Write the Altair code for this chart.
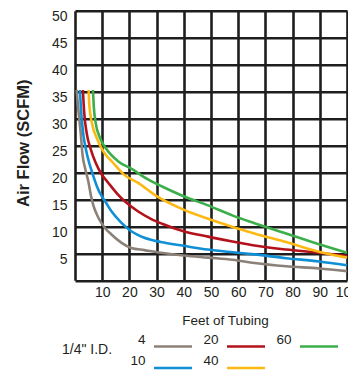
import altair as alt
import pandas as pd

# ---- data (Feet of tubing vs Air flow SCFM, 1/4" I.D.) ----
series_names = ["4", "10", "20", "40", "60"]

ft_4 = [0.6, 1.1, 1.6, 2.2, 2.7, 3.8, 5.0, 5.9, 6.8, 8.6, 11.0, 13.4, 17.0, 20.7, 25.5, 31.5, 39.9, 48.9, 58.0, 66.0, 77.6, 89.7, 100]
scfm_4 = [35.3, 32.3, 29.8, 26.7, 23.6, 20.6, 18.1, 15.6, 13.8, 11.6, 9.7, 8.5, 7.0, 6.0, 5.6, 5.1, 4.6, 4.2, 3.8, 3.2, 2.6, 2.2, 1.7]

ft_10 = [1.8, 2.3, 3.0, 4.0, 5.2, 6.3, 8.0, 9.8, 11.0, 13.4, 17.0, 20.7, 25.5, 31.5, 39.9, 48.9, 58.0, 66.0, 77.6, 89.7, 100]
scfm_10 = [35.3, 31.0, 27.3, 24.3, 21.8, 20.0, 17.5, 15.6, 14.7, 12.8, 10.7, 9.1, 7.9, 7.1, 6.4, 5.7, 5.2, 4.8, 4.1, 3.5, 2.8]

ft_20 = [2.9, 3.4, 4.3, 5.8, 7.6, 9.6, 12.2, 15.8, 18.2, 23.1, 27.9, 32.0, 39.9, 48.9, 58.0, 66.0, 77.6, 89.7, 100]
scfm_20 = [35.3, 31.0, 27.3, 24.3, 21.8, 19.8, 18.1, 15.9, 14.7, 12.8, 11.4, 10.5, 9.1, 8.1, 7.2, 6.45, 5.7, 5.1, 4.5]

ft_40 = [5.0, 5.3, 6.2, 8.0, 10.4, 14.0, 18.0, 23.1, 30.0, 39.9, 48.9, 58.0, 66.0, 77.6, 89.7, 100]
scfm_40 = [35.3, 32.3, 29.2, 26.4, 23.9, 21.8, 19.6, 18.1, 15.6, 13.1, 11.4, 9.9, 8.7, 7.1, 5.3, 4.2]

ft_60 = [6.6, 6.9, 7.6, 9.2, 11.6, 15.8, 21.0, 26.5, 32.0, 39.9, 48.9, 58.0, 66.0, 77.6, 89.7, 100]
scfm_60 = [35.3, 32.3, 29.2, 26.4, 24.3, 22.1, 20.6, 18.8, 17.4, 15.6, 13.9, 12.0, 10.6, 8.7, 6.7, 5.1]

x_ticks = [0, 10, 20, 30, 40, 50, 60, 70, 80, 90, 100]
y_ticks = [0, 5, 10, 15, 20, 25, 30, 35, 40, 45, 50]

legend_order = ["4", "20", "60", "10", "40"]
legend_colors = ["#8b8178", "#b3121b", "#3daf4a", "#0f8fd6", "#fdb913"]

rows = []
for name, xs, ys in zip(series_names, [ft_4, ft_10, ft_20, ft_40, ft_60],
                        [scfm_4, scfm_10, scfm_20, scfm_40, scfm_60]):
    for i, (a, b) in enumerate(zip(xs, ys)):
        rows.append({"ft": a, "scfm": b, "size": name, "idx": i})
df = pd.DataFrame(rows)

FONT = "Liberation Sans"
TXT = "#231f20"
GRID = "#1e1e1e"

chart = alt.Chart(df).mark_line(strokeWidth=2.6, interpolate="monotone").encode(
    x=alt.X("ft:Q",
            scale=alt.Scale(domain=[0, 100], nice=False, zero=False),
            axis=alt.Axis(values=x_ticks, labelExpr="datum.value == 0 ? '' : datum.label",
                          grid=True, gridColor=GRID, gridWidth=2.6, gridOpacity=1,
                          domain=False, ticks=False, labelPadding=5.5, labelFontSize=14,
                          labelFont=FONT, labelColor=TXT, labelFlush=False, labelOverlap=False,
                          labelBound=False,
                          title="Feet of Tubing", titleFont=FONT, titleFontSize=13.5,
                          titleFontWeight="normal", titleColor=TXT, titleX=150, titleY=43.7,
                          titleAlign="center", titleBaseline="alphabetic")),
    y=alt.Y("scfm:Q",
            scale=alt.Scale(domain=[0, 50], nice=False),
            axis=alt.Axis(values=y_ticks, labelExpr="datum.value == 0 ? '' : datum.label",
                          grid=True, gridColor=GRID, gridWidth=2.6, gridOpacity=1,
                          domain=False, ticks=False, labelPadding=8, labelOffset=6,
                          labelFontSize=14, labelFont=FONT, labelColor=TXT, labelFlush=False,
                          labelOverlap=False,
                          title="Air Flow (SCFM)", titleFont=FONT, titleFontSize=16.5,
                          titleFontWeight="bold", titleColor=TXT, titleAngle=270,
                          titleX=-47, titleY=132, titleAlign="center",
                          titleBaseline="alphabetic")),
    color=alt.Color("size:N",
                    scale=alt.Scale(domain=legend_order, range=legend_colors),
                    legend=alt.Legend(
                        title='1/4" I.D.', titleOrient="left", titleFont=FONT,
                        titleFontSize=14, titleFontWeight="normal", titleColor=TXT,
                        titleBaseline="bottom", titleAnchor="middle", titlePadding=19,
                        orient="none", legendX=-13, legendY=329, padding=0,
                        columns=3, direction="horizontal",
                        symbolType="M15.25,0H53.25", symbolSize=4, symbolStrokeWidth=2.5,
                        labelAlign="right", labelOffset=0, labelBaseline="bottom",
                        labelFont=FONT, labelFontSize=13.5, labelColor=TXT,
                        rowPadding=1.5, columnPadding=6.0)),
    order="idx:Q",
).properties(
    width=272, height=269.6,
    autosize=alt.AutoSizeParams(type="none"),
    padding={"left": 67, "top": 2.7, "right": 1, "bottom": 89.7},
).configure_view(stroke=None)

chart.save("out.html", embed_options={"renderer": "svg", "actions": False})
